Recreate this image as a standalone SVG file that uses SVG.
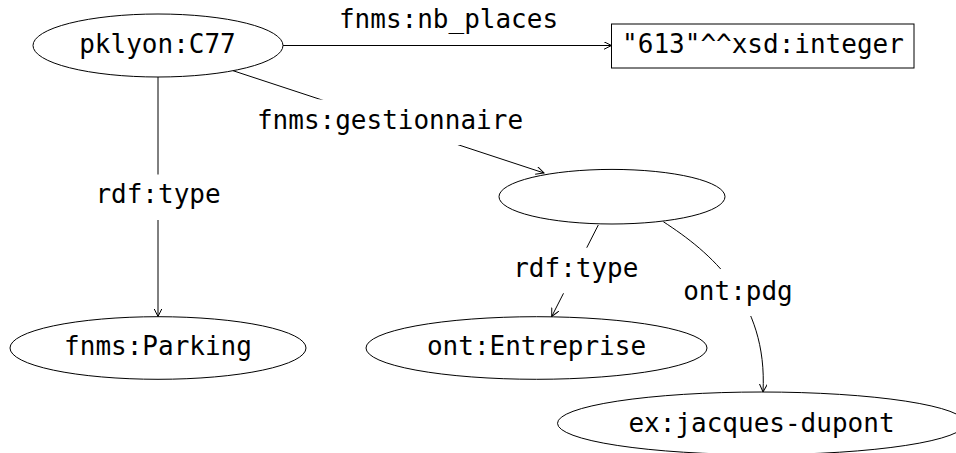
<svg xmlns="http://www.w3.org/2000/svg" width="956" height="453" viewBox="0 0 956 453">
<style>
  .shape { fill: #ffffff; stroke: #000000; stroke-width: 1; }
  .edge { fill: none; stroke: #000000; stroke-width: 1; marker-end: url(#arrow); }
  .lblbg { fill: #ffffff; stroke: none; }
  text { font-family: "DejaVu Sans Mono", "Liberation Mono", monospace; font-size: 26px; fill: #000000; text-anchor: middle; }
</style>
<defs>
  <marker id="arrow" markerWidth="10" markerHeight="10" refX="8" refY="4" orient="auto" markerUnits="userSpaceOnUse">
    <path d="M0,0 L8,4 L0,8" fill="none" stroke="#000000" stroke-width="1"/>
  </marker>
</defs>
<rect width="956" height="453" fill="#ffffff"/>
<g id="connectors">
  <g id="e-nb_places">
    <line class="edge" x1="283" y1="45.5" x2="611.5" y2="45.5"/>
    <text x="448.5" y="28">fnms:nb_places</text>
  </g>
  <g id="e-gestionnaire">
    <line class="edge" x1="233" y1="70.7" x2="544" y2="173"/>
    <rect class="lblbg" x="250" y="99.5" width="280" height="45.5"/>
    <text x="390" y="129.3">fnms:gestionnaire</text>
  </g>
  <g id="e-type1">
    <line class="edge" x1="158" y1="77" x2="158" y2="316.5"/>
    <rect class="lblbg" x="90" y="174.5" width="136" height="45.5"/>
    <text x="158" y="203.3">rdf:type</text>
  </g>
  <g id="e-type2">
    <line class="edge" x1="598.3" y1="225" x2="551.7" y2="316.5"/>
    <rect class="lblbg" x="507" y="247.7" width="138" height="45.6"/>
    <text x="575.8" y="277.3">rdf:type</text>
  </g>
  <g id="e-pdg">
    <path class="edge" d="M663.3,221.7 C710,252 768,300 763,392"/>
    <rect class="lblbg" x="675" y="269" width="125" height="47"/>
    <text x="738" y="299.5">ont:pdg</text>
  </g>
</g>
<g id="n-c77">
  <ellipse class="shape" cx="158" cy="45.5" rx="125" ry="31.5"/>
  <text x="157.5" y="53">pklyon:C77</text>
</g>
<g id="n-literal">
  <rect class="shape" x="611.5" y="24" width="302.5" height="44"/>
  <text x="763" y="53.3">"613"^^xsd:integer</text>
</g>
<g id="n-blank">
  <ellipse class="shape" cx="612" cy="196.7" rx="113" ry="27.3"/>
</g>
<g id="n-parking">
  <ellipse class="shape" cx="158" cy="348" rx="148" ry="31.3"/>
  <text x="158" y="355">fnms:Parking</text>
</g>
<g id="n-entreprise">
  <ellipse class="shape" cx="536.5" cy="348" rx="170.5" ry="31.3"/>
  <text x="536.5" y="355">ont:Entreprise</text>
</g>
<g id="n-dupont">
  <ellipse class="shape" cx="761.5" cy="423.3" rx="204" ry="31.3"/>
  <text x="761.5" y="432">ex:jacques-dupont</text>
</g>
</svg>
